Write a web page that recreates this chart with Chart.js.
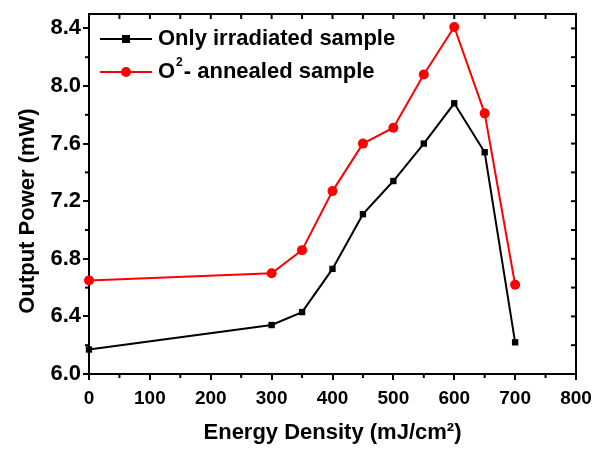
<!DOCTYPE html>
<html>
<head>
<meta charset="utf-8">
<script src="https://cdn.jsdelivr.net/npm/chart.js@4/dist/chart.umd.min.js"></script>
<style>
  html, body { margin: 0; padding: 0; background: #fff; }
  #wrap { width: 593px; height: 450px; position: relative; }
</style>
</head>
<body>
<div id="wrap"><canvas id="c" width="593" height="450"></canvas></div>
<script>
const energy = [0, 300, 350, 400, 450, 500, 550, 600, 650, 700];
const irradiated = [6.17, 6.34, 6.43, 6.73, 7.11, 7.34, 7.60, 7.88, 7.54, 6.22];
const annealed = [6.65, 6.70, 6.86, 7.27, 7.60, 7.71, 8.08, 8.41, 7.81, 6.62];
const yTickValues = [6.0, 6.4, 6.8, 7.2, 7.6, 8.0, 8.4];
const seriesNames = ['Only irradiated sample', 'annealed sample'];
const xTitle = 'Energy Density (mJ/cm\u00B2)';
const yTitle = 'Output Power (mW)';

const FONT = '"Liberation Sans", Arial, sans-serif';

const toPts = (ys) => energy.map((x, i) => ({ x: x, y: ys[i] }));

const framePlugin = {
  id: 'frame',
  afterDatasetsDraw(chart) {
    const { ctx, chartArea: a, scales } = chart;
    const xs = scales.x, ys = scales.y;
    ctx.save();
    ctx.strokeStyle = '#000';
    ctx.lineWidth = 2;
    ctx.beginPath();
    ctx.moveTo(a.left, a.top); ctx.lineTo(a.right, a.top); ctx.lineTo(a.right, a.bottom);
    ctx.stroke();
    for (let v = 0; v <= 800; v += 50) {
      const px = xs.getPixelForValue(v);
      ctx.beginPath();
      ctx.moveTo(px, a.top); ctx.lineTo(px, a.top + 5);
      ctx.stroke();
      if (v % 100 !== 0) {
        ctx.beginPath();
        ctx.moveTo(px, a.bottom); ctx.lineTo(px, a.bottom + 4);
        ctx.stroke();
      }
    }
    for (let k = 0; k <= 12; k++) {
      const v = 6.0 + k * 0.2;
      const py = ys.getPixelForValue(v);
      ctx.beginPath();
      ctx.moveTo(a.right, py); ctx.lineTo(a.right - 5, py);
      ctx.stroke();
      if (k % 2 === 1) {
        ctx.beginPath();
        ctx.moveTo(a.left, py); ctx.lineTo(a.left - 4, py);
        ctx.stroke();
      }
    }
    ctx.fillStyle = '#000';
    ctx.font = 'bold 22px ' + FONT;
    ctx.textAlign = 'center';
    ctx.textBaseline = 'middle';
    ctx.translate(28, 211);
    ctx.rotate(-Math.PI / 2);
    ctx.fillText(yTitle, 0, 0);
    ctx.restore();

    ctx.save();
    const ds = chart.data.datasets;
    const rows = [a.top + 25, a.top + 58];
    const x0 = a.left + 11, x1 = a.left + 63, xm = (x0 + x1) / 2, tx = a.left + 69;
    rows.forEach((ry, i) => {
      const d = ds[i];
      ctx.strokeStyle = d.borderColor;
      ctx.lineWidth = 2;
      ctx.beginPath(); ctx.moveTo(x0, ry); ctx.lineTo(x1, ry); ctx.stroke();
      ctx.fillStyle = d.backgroundColor;
      if (d.pointStyle === 'rect') {
        ctx.fillRect(xm - 4, ry - 4, 8, 8);
      } else {
        ctx.beginPath(); ctx.arc(xm, ry, 5, 0, Math.PI * 2); ctx.fill();
      }
      ctx.fillStyle = '#000';
      ctx.textAlign = 'left';
      ctx.textBaseline = 'middle';
      ctx.font = 'bold 22px ' + FONT;
      if (i === 0) {
        ctx.fillText(seriesNames[0], tx, ry);
      } else {
        ctx.fillText('O', tx, ry);
        const w = ctx.measureText('O').width;
        ctx.font = 'bold 12px ' + FONT;
        ctx.fillText('2', tx + w + 1, ry - 9);
        const w2 = ctx.measureText('2').width;
        ctx.font = 'bold 22px ' + FONT;
        ctx.fillText('- ' + seriesNames[1], tx + w + w2 + 2, ry);
      }
    });
    ctx.restore();
  }
};

new Chart(document.getElementById('c'), {
  type: 'line',
  data: {
    datasets: [
      {
        label: seriesNames[0],
        data: toPts(irradiated),
        borderColor: '#000000',
        backgroundColor: '#000000',
        borderWidth: 2,
        pointStyle: 'rect',
        pointRadius: 4.5,
        pointBorderWidth: 0,
        tension: 0,
        clip: false
      },
      {
        label: seriesNames[1],
        data: toPts(annealed),
        borderColor: '#ff0000',
        backgroundColor: '#ff0000',
        borderWidth: 2,
        pointStyle: 'circle',
        pointRadius: 5,
        pointBorderWidth: 0,
        tension: 0,
        clip: false
      }
    ]
  },
  options: {
    responsive: false,
    animation: false,
    devicePixelRatio: 1,
    layout: { padding: { top: 14, right: 17, left: 0, bottom: 0 } },
    plugins: { legend: { display: false }, tooltip: { enabled: false } },
    scales: {
      x: {
        type: 'linear',
        min: 0, max: 800,
        afterFit(s) { s.height = 76; s.paddingRight = 0; s.paddingLeft = 0; },
        border: { color: '#000', width: 2 },
        grid: { drawOnChartArea: false, drawTicks: true, tickLength: 6, color: '#000', lineWidth: 2 },
        ticks: {
          stepSize: 100,
          color: '#000',
          padding: 7,
          font: { family: FONT, size: 19, weight: 'bold' }
        },
        title: {
          display: true,
          text: xTitle,
          color: '#000',
          padding: { top: 11 },
          font: { family: FONT, size: 22, weight: 'bold' }
        }
      },
      y: {
        type: 'linear',
        min: 6.0, max: 8.5,
        afterFit(s) { s.width = 89; s.paddingTop = 0; s.paddingBottom = 0; },
        afterBuildTicks(s) { s.ticks = yTickValues.map(v => ({ value: v })); },
        border: { color: '#000', width: 2 },
        grid: { drawOnChartArea: false, drawTicks: true, tickLength: 6, color: '#000', lineWidth: 2 },
        ticks: {
          color: '#000',
          padding: 2,
          font: { family: FONT, size: 22, weight: 'bold' },
          callback: (v) => Number(v).toFixed(1)
        }
      }
    }
  },
  plugins: [framePlugin]
});
</script>
</body>
</html>
